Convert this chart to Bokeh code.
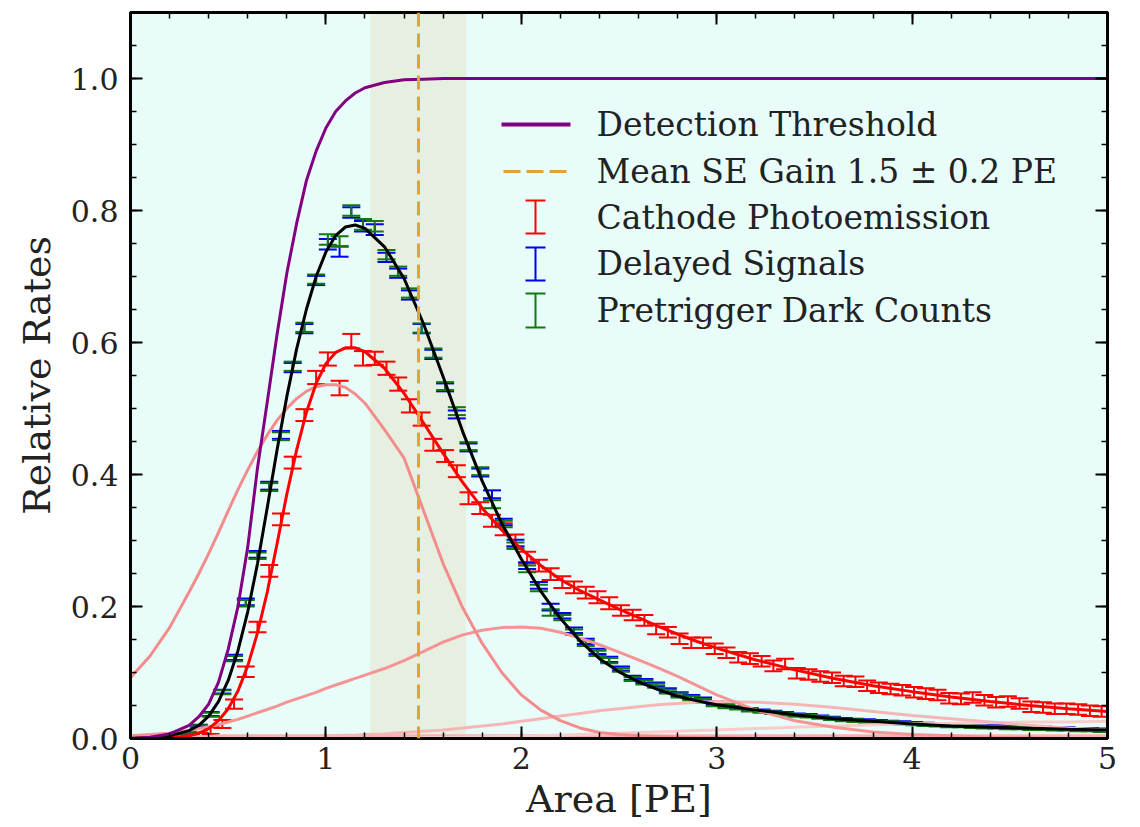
import numpy as np
from bokeh.plotting import figure
from bokeh.models import (ColumnDataSource, Whisker, TeeHead, Span, BoxAnnotation, Label,
                          LinearAxis, FixedTicker, Range1d, PrintfTickFormatter)
from bokeh.embed import file_html
from bokeh.resources import INLINE

FONT = "DejaVu Serif"

# ---------------- data ----------------
bin_x = np.round(0.05 + 0.06 * np.arange(83), 3)

pretrigger = [0.001, 0.001, 0.002, 0.004, 0.009, 0.018, 0.036, 0.070, 0.121, 0.205,
              0.277, 0.381, 0.458, 0.564, 0.623, 0.696, 0.756, 0.753, 0.800, 0.779,
              0.776, 0.733, 0.708, 0.675, 0.622, 0.584, 0.534, 0.496, 0.443, 0.405,
              0.355, 0.325, 0.292, 0.257, 0.228, 0.191, 0.183, 0.161, 0.144, 0.129,
              0.118, 0.104, 0.090, 0.085, 0.080, 0.071, 0.065, 0.061, 0.057, 0.052,
              0.049, 0.046, 0.043, 0.041, 0.039, 0.037, 0.035, 0.034, 0.032, 0.030,
              0.028, 0.027, 0.026, 0.025, 0.024, 0.023, 0.022, 0.021, 0.020, 0.019,
              0.019, 0.018, 0.017, 0.017, 0.016, 0.016, 0.015, 0.015, 0.014, 0.014,
              0.013, 0.013, 0.012]
delayed = [0.001, 0.001, 0.002, 0.004, 0.009, 0.019, 0.037, 0.071, 0.123, 0.207,
           0.279, 0.383, 0.460, 0.562, 0.621, 0.694, 0.749, 0.738, 0.797, 0.776,
           0.771, 0.729, 0.705, 0.672, 0.621, 0.582, 0.532, 0.491, 0.441, 0.403,
           0.370, 0.328, 0.296, 0.262, 0.232, 0.199, 0.186, 0.164, 0.147, 0.132,
           0.120, 0.106, 0.092, 0.087, 0.082, 0.073, 0.067, 0.063, 0.059, 0.054,
           0.051, 0.047, 0.044, 0.042, 0.040, 0.038, 0.036, 0.035, 0.033, 0.031,
           0.029, 0.028, 0.027, 0.026, 0.025, 0.024, 0.023, 0.022, 0.021, 0.020,
           0.020, 0.019, 0.018, 0.018, 0.017, 0.017, 0.016, 0.016, 0.015, 0.015,
           0.014, 0.014, 0.013]
dark_err = ([0.001, 0.001, 0.001, 0.001, 0.0015, 0.002, 0.003, 0.003, 0.004, 0.005,
             0.005, 0.006, 0.006, 0.007, 0.007, 0.007, 0.008, 0.008, 0.008, 0.008,
             0.008, 0.007, 0.007, 0.007, 0.007, 0.007, 0.006, 0.006, 0.006, 0.006,
             0.006, 0.005, 0.005, 0.005, 0.005, 0.005, 0.004, 0.004, 0.004, 0.004,
             0.004] + [0.003] * 10 + [0.002] * 32)

cathode = [None, None, None, None, 0.002, 0.005, 0.012, 0.022, 0.052, 0.101,
           0.169, 0.254, 0.332, 0.418, 0.490, 0.547, 0.575, 0.531, 0.602, 0.576,
           0.576, 0.561, 0.537, 0.504, 0.484, 0.445, 0.428, 0.405, 0.364, 0.349,
           0.330, 0.317, 0.300, 0.274, 0.262, 0.249, 0.237, 0.229, 0.221, 0.214,
           0.205, 0.194, 0.187, 0.179, 0.166, 0.161, 0.151, 0.145, 0.145, 0.136,
           0.130, 0.123, 0.121, 0.117, 0.110, 0.113, 0.099, 0.097, 0.094, 0.092,
           0.087, 0.086, 0.080, 0.077, 0.075, 0.073, 0.070, 0.068, 0.066, 0.061,
           0.060, 0.062, 0.058, 0.055, 0.056, 0.053, 0.048, 0.047, 0.045, 0.045,
           0.044, 0.042, 0.041]
cathode_err = ([0, 0, 0, 0, 0.003, 0.004, 0.005, 0.006, 0.007, 0.008,
                0.008, 0.009, 0.009, 0.009, 0.009, 0.010, 0.010, 0.011, 0.011, 0.011,
                0.010, 0.010, 0.010, 0.010, 0.010] + [0.009] * 16 + [0.008] * 42)

fit_x = [0.0, 0.1, 0.2, 0.3, 0.35, 0.4, 0.45, 0.5, 0.55, 0.6, 0.65, 0.7, 0.75, 0.8,
         0.85, 0.9, 0.95, 1.0, 1.05, 1.1, 1.15, 1.2, 1.3, 1.4, 1.5, 1.6, 1.7, 1.8,
         1.9, 2.0, 2.1, 2.2, 2.3, 2.4, 2.5, 2.6, 2.7, 2.8, 2.9, 3.0, 3.2, 3.4, 3.6,
         3.8, 4.0, 4.2, 4.4, 4.6, 4.8, 5.0]
fit_total = [0.0, 0.001, 0.004, 0.012, 0.020, 0.034, 0.056, 0.088, 0.133, 0.192,
             0.265, 0.350, 0.437, 0.518, 0.590, 0.650, 0.700, 0.737, 0.762, 0.775,
             0.778, 0.773, 0.745, 0.697, 0.628, 0.548, 0.465, 0.390, 0.326, 0.272,
             0.223, 0.182, 0.148, 0.121, 0.101, 0.086, 0.074, 0.064, 0.057, 0.051,
             0.043, 0.036, 0.030, 0.026, 0.022, 0.019, 0.017, 0.0155, 0.014, 0.013]
fit_cathode = [0.0, 0.0, 0.001, 0.004, 0.008, 0.015, 0.027, 0.045, 0.072, 0.110,
               0.160, 0.222, 0.295, 0.370, 0.437, 0.494, 0.538, 0.568, 0.585, 0.592,
               0.592, 0.586, 0.561, 0.523, 0.478, 0.432, 0.388, 0.349, 0.316, 0.287,
               0.262, 0.241, 0.224, 0.210, 0.196, 0.183, 0.170, 0.158, 0.147, 0.137,
               0.119, 0.104, 0.091, 0.080, 0.071, 0.063, 0.056, 0.050, 0.045, 0.041]
threshold = [0.0, 0.002, 0.007, 0.020, 0.033, 0.052, 0.085, 0.135, 0.200, 0.290,
             0.410, 0.510, 0.612, 0.705, 0.780, 0.845, 0.890, 0.925, 0.950, 0.966,
             0.978, 0.986, 0.994, 0.998, 0.999, 1.0, 1.0, 1.0, 1.0, 1.0,
             1.0, 1.0, 1.0, 1.0, 1.0, 1.0, 1.0, 1.0, 1.0, 1.0,
             1.0, 1.0, 1.0, 1.0, 1.0, 1.0, 1.0, 1.0, 1.0, 1.0]
comp_1pe = [0.092, 0.125, 0.168, 0.222, 0.250, 0.280, 0.312, 0.345, 0.377, 0.407,
            0.435, 0.460, 0.482, 0.500, 0.515, 0.526, 0.533, 0.536, 0.536, 0.532,
            0.522, 0.508, 0.468, 0.425, 0.345, 0.265, 0.198, 0.144, 0.100, 0.066,
            0.043, 0.027, 0.016, 0.009, 0.006, 0.004, 0.003, 0.002, 0.001, 0.001,
            0.0, 0.0, 0.0, 0.0, 0.0, 0.0, 0.0, 0.0, 0.0, 0.0]
comp_2pe = [0.004, 0.006, 0.008, 0.012, 0.015, 0.018, 0.021, 0.025, 0.029, 0.034,
            0.039, 0.044, 0.049, 0.055, 0.060, 0.065, 0.070, 0.076, 0.081, 0.086,
            0.091, 0.096, 0.106, 0.118, 0.132, 0.146, 0.157, 0.164, 0.168, 0.169,
            0.167, 0.161, 0.152, 0.142, 0.131, 0.119, 0.107, 0.094, 0.080, 0.066,
            0.043, 0.027, 0.017, 0.010, 0.006, 0.004, 0.002, 0.001, 0.0, 0.0]
comp_3pe = [0.0, 0.0, 0.0, 0.0, 0.0, 0.0, 0.0, 0.001, 0.001, 0.001,
            0.001, 0.002, 0.002, 0.002, 0.003, 0.003, 0.003, 0.004, 0.004, 0.005,
            0.005, 0.006, 0.007, 0.009, 0.011, 0.013, 0.016, 0.019, 0.022, 0.026,
            0.030, 0.034, 0.038, 0.042, 0.045, 0.048, 0.051, 0.053, 0.055, 0.056,
            0.055, 0.052, 0.047, 0.041, 0.035, 0.030, 0.025, 0.020, 0.016, 0.013]
comp_4pe = [0.0, 0.0, 0.0, 0.0, 0.0, 0.0, 0.0, 0.0, 0.0, 0.0,
            0.0, 0.0, 0.0, 0.0, 0.0, 0.0, 0.0, 0.0, 0.0, 0.0,
            0.0, 0.0, 0.0, 0.0005, 0.001, 0.0015, 0.002, 0.0025, 0.003, 0.0035,
            0.004, 0.005, 0.006, 0.007, 0.008, 0.009, 0.010, 0.011, 0.012, 0.013,
            0.015, 0.017, 0.019, 0.021, 0.022, 0.023, 0.024, 0.025, 0.025, 0.026]
comp_base = [0.0, 0.001, 0.002, 0.003, 0.003, 0.003, 0.004, 0.004, 0.004, 0.004,
             0.004, 0.004, 0.004, 0.004, 0.004, 0.004, 0.004, 0.004, 0.004, 0.004,
             0.004, 0.004, 0.004, 0.004, 0.004, 0.004, 0.004, 0.004, 0.004, 0.004,
             0.004, 0.004, 0.004, 0.004, 0.004, 0.004, 0.004, 0.004, 0.004, 0.004,
             0.004, 0.004, 0.004, 0.004, 0.004, 0.004, 0.004, 0.004, 0.004, 0.004]

gain_mean = 1.474
gain_band = (1.227, 1.718)

x_ticks = [0, 1, 2, 3, 4, 5]
x_minor = [round(0.2 * i, 2) for i in range(26)]
y_ticks = [0.0, 0.2, 0.4, 0.6, 0.8, 1.0]
y_minor = [round(0.05 * i, 2) for i in range(23)]

legend_labels = ["Detection Threshold", "Mean SE Gain 1.5 \u00b1 0.2 PE",
                 "Cathode Photoemission", "Delayed Signals", "Pretrigger Dark Counts"]

# ---------------- figure ----------------
p = figure(width=1140, height=827, x_range=Range1d(0, 5), y_range=Range1d(0, 1.1),
           output_backend="svg", toolbar_location=None,
           min_border_left=130, min_border_right=33, min_border_top=12, min_border_bottom=89,
           background_fill_color="#e8fcf9", border_fill_color="white")
p.xgrid.visible = False
p.ygrid.visible = False
p.outline_line_color = "black"
p.outline_line_width = 3


def style_axis(ax, ticks, minor, show_labels=True):
    ax.ticker = FixedTicker(ticks=ticks, minor_ticks=minor)
    ax.axis_line_width = 3
    ax.major_tick_in = 12
    ax.major_tick_out = 0
    ax.minor_tick_in = 6
    ax.minor_tick_out = 0
    ax.major_tick_line_width = 2
    ax.minor_tick_line_width = 1.5
    ax.major_label_text_font = FONT
    if show_labels:
        ax.major_label_text_font_size = "30px"
        ax.major_label_text_color = "#222222"
    else:
        ax.major_label_text_font_size = "1px"
        ax.major_label_text_color = None
        ax.major_label_standoff = 0


style_axis(p.xaxis[0], x_ticks, x_minor)
style_axis(p.yaxis[0], y_ticks, y_minor)
p.yaxis[0].formatter = PrintfTickFormatter(format="%.1f")
p.xaxis[0].major_label_standoff = 8
p.yaxis[0].major_label_standoff = 12
for ax, lab, st in ((p.xaxis[0], "Area [PE]", 5), (p.yaxis[0], "Relative Rates", 9)):
    ax.axis_label = lab
    ax.axis_label_text_font = FONT
    ax.axis_label_text_font_size = "38px"
    ax.axis_label_text_font_style = "normal"
    ax.axis_label_text_color = "#222222"
    ax.axis_label_standoff = st

top_ax = LinearAxis()
style_axis(top_ax, x_ticks, x_minor, show_labels=False)
p.add_layout(top_ax, "above")
right_ax = LinearAxis()
style_axis(right_ax, y_ticks, y_minor, show_labels=False)
p.add_layout(right_ax, "right")

# gain band
p.add_layout(BoxAnnotation(left=gain_band[0], right=gain_band[1], fill_color="#e0a040",
                           fill_alpha=0.13, line_color=None, level="underlay"))


def errorbars(xs, ys, es, color):
    pts = [(x, y, e) for x, y, e in zip(xs, ys, es) if y is not None]
    src = ColumnDataSource(dict(base=[a for a, _, _ in pts],
                                lower=[b - c for _, b, c in pts],
                                upper=[b + c for _, b, c in pts]))
    p.add_layout(Whisker(source=src, base="base", lower="lower", upper="upper",
                         dimension="height", line_color=color, line_width=2,
                         upper_head=TeeHead(size=18, line_color=color, line_width=2),
                         lower_head=TeeHead(size=18, line_color=color, line_width=2),
                         level="underlay"))


errorbars(bin_x, cathode, cathode_err, "#ff0000")
errorbars(bin_x, delayed, dark_err, "#0000ee")
errorbars(bin_x, pretrigger, dark_err, "#107a10")

# fit components
p.line(fit_x, comp_base, line_color="#f7b0b0", line_width=3)
p.line(fit_x, comp_4pe, line_color="#f9cccc", line_width=3)
p.line(fit_x, comp_3pe, line_color="#f6b6b6", line_width=3)
p.line(fit_x, comp_2pe, line_color="#f59494", line_width=3)
p.line(fit_x, comp_1pe, line_color="#f38c8c", line_width=3)
p.line(fit_x, fit_cathode, line_color="#ff0000", line_width=3)
p.line(fit_x, fit_total, line_color="black", line_width=3)
p.line(fit_x, threshold, line_color="#800080", line_width=3)

p.add_layout(Span(location=gain_mean, dimension="height", line_color="#dfa530",
                  line_width=3, line_dash="14 7"))

# ---------------- legend (screen units inside frame) ----------------
def leg_whisker(base, lo, hi, dim, color, width, dash="solid", heads=False):
    src = ColumnDataSource(dict(b=[base], l=[lo], u=[hi]))
    kw = {}
    if heads:
        kw["upper_head"] = TeeHead(size=20, line_color=color, line_width=2)
        kw["lower_head"] = TeeHead(size=20, line_color=color, line_width=2)
    else:
        kw["upper_head"] = None
        kw["lower_head"] = None
    p.add_layout(Whisker(source=src, base="b", lower="l", upper="u", dimension=dim,
                         base_units="screen", lower_units="screen", upper_units="screen",
                         line_color=color, line_width=width, line_dash=dash,
                         level="overlay", **kw))


leg_whisker(614, 371, 440, "width", "#800080", 4)
leg_whisker(567, 373, 436, "width", "#dfa530", 3, dash="17 6")
leg_whisker(405, 505, 538, "height", "#ff0000", 2, heads=True)
leg_whisker(405, 458, 491, "height", "#0000ee", 2, heads=True)
leg_whisker(405, 411, 445, "height", "#107a10", 2, heads=True)
for lab, yy in zip(legend_labels, [614, 567, 521, 475, 428]):
    p.add_layout(Label(x=466, y=yy, x_units="screen", y_units="screen", text=lab,
                       text_font=FONT, text_font_size="33px", text_color="#222222",
                       text_baseline="middle", text_align="left"))

open("out.html", "w").write(file_html(p, INLINE))
